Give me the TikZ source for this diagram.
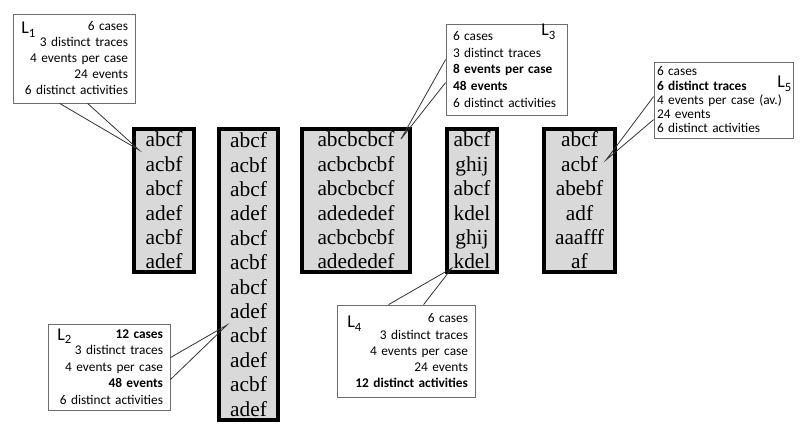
\documentclass[tikz,border=0pt]{standalone}
\usepackage{fontspec}
\setmainfont{Liberation Serif}
\newfontfamily\calibri{Carlito}
\usetikzlibrary{calc}
\definecolor{logfill}{HTML}{D9D9D9}
\definecolor{callline}{HTML}{6E6E6E}
\tikzset{
  logcol/.style={draw=black,line width=3pt,fill=logfill,inner sep=0pt,
                 align=center,font=\fontsize{16}{18.3}\selectfont},
  infobox/.style={draw=callline,line width=0.6pt,fill=white,inner ysep=0pt,
                  inner xsep=5.25pt,font=\calibri\fontsize{10}{12}\selectfont},
  infoleft/.style={infobox,align=left},
  inforight/.style={infobox,align=right},
  loglabel/.style={anchor=base west,inner sep=0pt,font=\calibri\fontsize{13.5}{13.5}\selectfont},
  pointer/.style={draw=black!80,line width=0.6pt}
}
\newcommand{\lname}[1]{L\raisebox{-0.35ex}{\fontsize{9.5}{9.5}\selectfont #1}}
\begin{document}
\begin{tikzpicture}[x=0.75pt,y=-0.75pt]
  \useasboundingbox (0,0) rectangle (806,434);
  \node[logcol,minimum width=45pt,minimum height=107.25pt] (log1) at (164,200.5)
    {abcf\\acbf\\abcf\\adef\\acbf\\adef};
  \node[logcol,minimum width=44.25pt,minimum height=218.25pt] (log2) at (248.5,274.5)
    {abcf\\acbf\\abcf\\adef\\abcf\\acbf\\abcf\\adef\\acbf\\adef\\acbf\\adef};
  \node[logcol,minimum width=81pt,minimum height=107.25pt] (log3) at (356,200.5)
    {abcbcbcf\\acbcbcbf\\abcbcbcf\\adededef\\acbcbcbf\\adededef};
  \node[logcol,minimum width=37.5pt,minimum height=107.25pt] (log4) at (472,200.5)
    {abcf\\ghij\\abcf\\kdel\\ghij\\kdel};
  \node[logcol,minimum width=53.25pt,minimum height=107.25pt] (log5) at (579.5,200.5)
    {abcf\\acbf\\abebf\\adf\\aaafff\\af};
  \node[inforight,text width=81pt,minimum height=66.75pt] (info1) at (74,58.5)
    {6 cases\\3 distinct traces\\4 events per case\\24 events\\6 distinct activities};
  \node[inforight,text width=81pt,minimum height=64.5pt,
        font=\calibri\fontsize{10}{12.4}\selectfont] (info2) at (109,367)
    {\textbf{12 cases}\\3 distinct traces\\4 events per case\\\textbf{48 events}\\6 distinct activities};
  \node[infoleft,text width=80.25pt,minimum height=68.25pt,
        font=\calibri\fontsize{10}{12.5}\selectfont] (info3) at (506.5,69.5)
    {6 cases\\3 distinct traces\\\textbf{8 events per case}\\\textbf{48 events}\\6 distinct activities};
  \node[inforight,text width=93pt,minimum height=69pt,
        font=\calibri\fontsize{10}{12.2}\selectfont] (info4) at (406,351)
    {6 cases\\3 distinct traces\\4 events per case\\24 events\\\textbf{12 distinct activities}};
  \node[infoleft,text width=99.75pt,inner xsep=2.25pt,minimum height=57pt,
        font=\calibri\fontsize{10}{10.7}\selectfont] (info5) at (723.5,100)
    {6 cases\\\textbf{6 distinct traces}\\4 events per case (av.)\\24 events\\6 distinct activities};
  \node[loglabel] (name1) at (21,34) {\lname{1}};
  \node[loglabel] (name2) at (57,340) {\lname{2}};
  \node[loglabel] (name3) at (541,36) {\lname{3}};
  \node[loglabel] (name4) at (347,328) {\lname{4}};
  \node[loglabel] (name5) at (777,88) {\lname{5}};
  \coordinate (tip1) at (139,150);
  \coordinate (tip2) at (227,325);
  \coordinate (tip3) at (401,139);
  \coordinate (tip4) at (452,268);
  \coordinate (tip5) at (606,160);
  \foreach \src/\side/\pa/\pb/\tip in {info1/south west/{47,0}/{75,0}/tip1,
      info2/north east/{0,34}/{0,56}/tip2,info3/north west/{0,36}/{0,59}/tip3,
      info4/north west/{52,0}/{87,0}/tip4,info5/north west/{0,35}/{0,58}/tip5}
    \draw[pointer] ($(\src.\side)+(\pa)$) -- (\tip) -- ($(\src.\side)+(\pb)$);
\end{tikzpicture}
\end{document}
